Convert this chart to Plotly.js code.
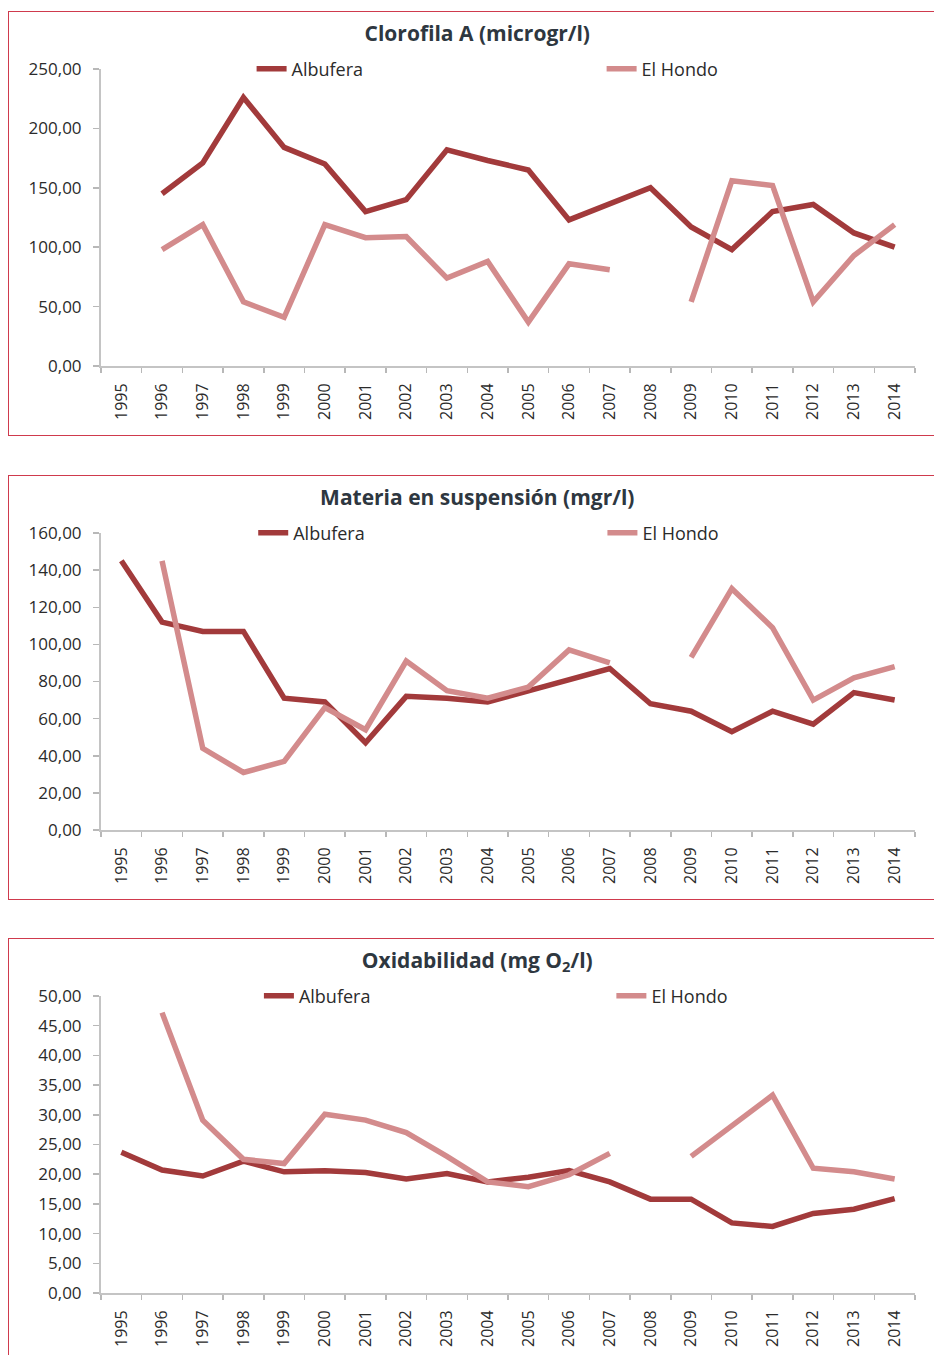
<!DOCTYPE html>
<html>
<head>
<meta charset="utf-8">
<script src="https://cdn.plot.ly/plotly-3.0.1.min.js"></script>
<style>
    html, body { margin: 0; padding: 0; background: #fff; overflow: hidden; }
    body { width: 934px; height: 1355px; position: relative; }
    .frame { position: absolute; left: 8px; width: 940px; height: 425px; border: 1.5px solid #cf3a4d; box-sizing: border-box; }
    .chart { position: absolute; left: 0; width: 934px; height: 424px; }
</style>
</head>
<body>
<div class="frame" style="top:11px"></div>
<div class="frame" style="top:475px"></div>
<div class="frame" style="top:938px"></div>
<div id="chart-clorofila" class="chart" style="top:12px"></div>
<div id="chart-materia" class="chart" style="top:476px"></div>
<div id="chart-oxidabilidad" class="chart" style="top:939px"></div>
<script>
const Years = ['1995', '1996', '1997', '1998', '1999', '2000', '2001', '2002', '2003', '2004',
    '2005', '2006', '2007', '2008', '2009', '2010', '2011', '2012', '2013', '2014'];

// Clorofila A (microgr/l)
const clorofilaAlbufera = [null, 145, 171, 226, 184, 170, 130, 140, 182, 173,
    165, 123, 137, 150, 117, 98, 130, 136, 112, 100];
const clorofilaHondo = [null, 98, 119, 54, 41, 119, 108, 109, 74, 88,
    37, 86, 81, null, 54, 156, 152, 54, 93, 119];

// Materia en suspensión (mgr/l)
const materiaAlbufera = [145, 112, 107, 107, 71, 69, 47, 72, 71, 69,
    75, 81, 87, 68, 64, 53, 64, 57, 74, 70];
const materiaHondo = [null, 145, 44, 31, 37, 66, 54, 91, 75, 71,
    77, 97, 90, null, 93, 130, 109, 70, 82, 88];

// Oxidabilidad (mg O2/l)
const oxidabilidadAlbufera = [23.7, 20.7, 19.7, 22.2, 20.4, 20.6, 20.3, 19.2, 20.1, 18.7,
    19.5, 20.6, 18.7, 15.8, 15.8, 11.8, 11.2, 13.4, 14.1, 15.9];
const oxidabilidadHondo = [null, 47.2, 29.1, 22.5, 21.8, 30.1, 29.1, 27.0, 23.0, 18.7,
    17.9, 19.9, 23.5, null, 23.0, 28.1, 33.3, 21.0, 20.4, 19.2];

const ALBUFERA_COLOR = '#a23a3b';
const HONDO_COLOR = '#d38b8c';
const FONT = 'Open Sans, sans-serif';
const TEXT_COLOR = '#2b2b2b';

function legendAt(x) {
    return {
        x: x, xanchor: 'left',
        y: 1.0, yanchor: 'middle',
        itemwidth: 30,
        font: { family: FONT, size: 18, color: TEXT_COLOR },
        bgcolor: 'rgba(0,0,0,0)',
        borderwidth: 0
    };
}

function renderChart(id, title, albufera, hondo, yMax, yStep, legendX) {
    const traces = [
        { x: Years, y: albufera, type: 'scatter', mode: 'lines', name: 'Albufera',
          line: { color: ALBUFERA_COLOR, width: 5.5 }, legend: 'legend' },
        { x: Years, y: hondo, type: 'scatter', mode: 'lines', name: 'El Hondo',
          line: { color: HONDO_COLOR, width: 5.5 }, legend: 'legend2' }
    ];

    const layout = {
        width: 934,
        height: 424,
        margin: { l: 101, r: 19, t: 57, b: 70 },
        paper_bgcolor: 'rgba(0,0,0,0)',
        plot_bgcolor: 'rgba(0,0,0,0)',
        separators: ',.',
        font: { family: FONT, color: TEXT_COLOR },
        title: {
            text: title,
            font: { family: FONT, size: 21, color: '#2e3740', weight: 'bold' },
            x: 0.511, xanchor: 'center', y: 0.95, yanchor: 'middle'
        },
        showlegend: true,
        legend: legendAt(legendX[0]),
        legend2: legendAt(legendX[1]),
        xaxis: {
            type: 'category',
            range: [-0.5, 19.5],
            tickson: 'boundaries',
            ticks: 'outside',
            ticklen: 5,
            tickcolor: '#b8b8b8',
            tickwidth: 1.5,
            showline: true,
            linecolor: '#c4c4c4',
            linewidth: 2,
            showgrid: false,
            zeroline: false,
            tickangle: -90,
            ticklabelstandoff: 9,
            tickfont: { family: FONT, size: 16, color: TEXT_COLOR },
            fixedrange: true
        },
        yaxis: {
            range: [0, yMax],
            dtick: yStep,
            tick0: 0,
            tickformat: '.2f',
            ticks: 'outside',
            ticklen: 6,
            tickcolor: '#b8b8b8',
            tickwidth: 1.5,
            showline: true,
            linecolor: '#c4c4c4',
            linewidth: 2,
            showgrid: false,
            zeroline: false,
            ticklabelstandoff: 8,
            tickfont: { family: FONT, size: 17, color: TEXT_COLOR },
            fixedrange: true
        }
    };

    Plotly.newPlot(id, traces, layout, { staticPlot: true });
}

renderChart('chart-clorofila', 'Clorofila A (microgr/l)', clorofilaAlbufera, clorofilaHondo, 250, 50, [0.185, 0.615]);
renderChart('chart-materia', 'Materia en suspensión (mgr/l)', materiaAlbufera, materiaHondo, 160, 20, [0.187, 0.616]);
renderChart('chart-oxidabilidad', 'Oxidabilidad (mg O<sub>2</sub>/l)', oxidabilidadAlbufera, oxidabilidadHondo, 50, 5, [0.194, 0.627]);
</script>
</body>
</html>
